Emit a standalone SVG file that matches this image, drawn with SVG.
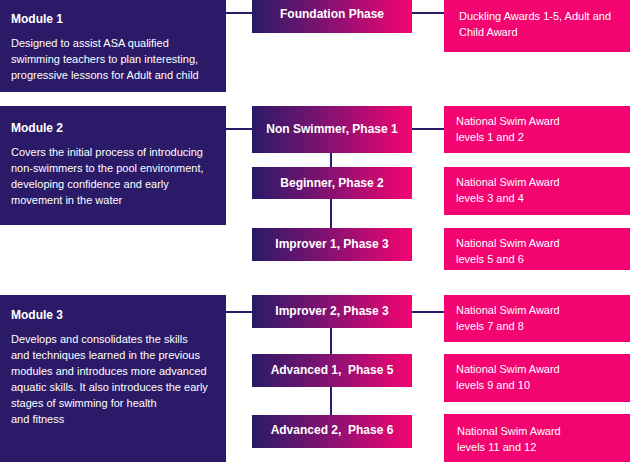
<svg xmlns="http://www.w3.org/2000/svg" width="630" height="462" viewBox="0 0 630 462">
<style>
.mod{fill:#2a1a67}
.ph{fill:url(#g)}
.aw{fill:#f40471}
.t{font-family:"Liberation Sans",Arial,sans-serif;fill:#fff}
.mt{font-size:12px;font-weight:bold}
.mb{font-size:11px}
.pt{font-size:12px;font-weight:bold;text-anchor:middle}
.at{font-size:11px}
.c{stroke:#2a1a67;stroke-width:2;fill:none}
</style>
<defs>
<linearGradient id="g" x1="0" y1="0" x2="1" y2="0">
<stop offset="0" stop-color="#2a1a67"/>
<stop offset="0.5" stop-color="#8a1172"/>
<stop offset="1" stop-color="#f40471"/>
</linearGradient>
</defs>
<rect width="630" height="462" fill="#fff"/>
<g id="connectors" class="c">
<path d="M226 13H252M412 13H444"/>
<path d="M226 129H252M412 129H444"/>
<path d="M226 312H252M412 312H444"/>
<path d="M331 153V167M331 199V228"/>
<path d="M331 328V354M331 387V415"/>
</g>
<g id="module1">
<rect class="mod" x="0" y="0" width="226" height="92"/>
<text class="t mt" x="11" y="23">Module 1</text>
<text class="t mb" x="11" y="47">Designed to assist ASA qualified</text>
<text class="t mb" x="11" y="63">swimming teachers to plan interesting,</text>
<text class="t mb" x="11" y="79">progressive lessons for Adult and child</text>
</g>
<g id="module2">
<rect class="mod" x="0" y="106" width="226" height="119"/>
<text class="t mt" x="11" y="132">Module 2</text>
<text class="t mb" x="11" y="156">Covers the initial process of introducing</text>
<text class="t mb" x="11" y="172">non-swimmers to the pool environment,</text>
<text class="t mb" x="11" y="188">developing confidence and early</text>
<text class="t mb" x="11" y="204">movement in the water</text>
</g>
<g id="module3">
<rect class="mod" x="0" y="295" width="226" height="167"/>
<text class="t mt" x="11" y="319">Module 3</text>
<text class="t mb" x="11" y="343">Develops and consolidates the skills</text>
<text class="t mb" x="11" y="359">and techniques learned in the previous</text>
<text class="t mb" x="11" y="375">modules and introduces more advanced</text>
<text class="t mb" x="11" y="391">aquatic skills. It also introduces the early</text>
<text class="t mb" x="11" y="407">stages of swimming for health</text>
<text class="t mb" x="11" y="423">and fitness</text>
</g>
<g id="foundation">
<rect class="ph" x="252" y="0" width="160" height="33"/>
<text class="t pt" x="332" y="18">Foundation Phase</text>
</g>
<g id="nonswimmer">
<rect class="ph" x="252" y="106" width="160" height="47"/>
<text class="t pt" x="332" y="133">Non Swimmer, Phase 1</text>
</g>
<g id="beginner">
<rect class="ph" x="252" y="167" width="160" height="32"/>
<text class="t pt" x="332" y="187">Beginner, Phase 2</text>
</g>
<g id="improver1">
<rect class="ph" x="252" y="228" width="160" height="33"/>
<text class="t pt" x="332" y="248">Improver 1, Phase 3</text>
</g>
<g id="improver2">
<rect class="ph" x="252" y="295" width="160" height="33"/>
<text class="t pt" x="332" y="315">Improver 2, Phase 3</text>
</g>
<g id="advanced1">
<rect class="ph" x="252" y="354" width="160" height="33"/>
<text class="t pt" x="332" y="374" xml:space="preserve">Advanced 1,  Phase 5</text>
</g>
<g id="advanced2">
<rect class="ph" x="252" y="415" width="160" height="33"/>
<text class="t pt" x="332" y="434" xml:space="preserve">Advanced 2,  Phase 6</text>
</g>
<g id="award0">
<rect class="aw" x="444" y="0" width="186" height="52"/>
<text class="t at" x="459" y="20">Duckling Awards 1-5, Adult and</text>
<text class="t at" x="459" y="36">Child Award</text>
</g>
<g id="award1">
<rect class="aw" x="444" y="106" width="186" height="47"/>
<text class="t at" x="456" y="125">National Swim Award</text>
<text class="t at" x="456" y="141">levels 1 and 2</text>
</g>
<g id="award2">
<rect class="aw" x="444" y="167" width="186" height="48"/>
<text class="t at" x="456" y="186">National Swim Award</text>
<text class="t at" x="456" y="202">levels 3 and 4</text>
</g>
<g id="award3">
<rect class="aw" x="444" y="228" width="186" height="42"/>
<text class="t at" x="456" y="247">National Swim Award</text>
<text class="t at" x="456" y="263">levels 5 and 6</text>
</g>
<g id="award4">
<rect class="aw" x="444" y="295" width="186" height="47"/>
<text class="t at" x="456" y="314">National Swim Award</text>
<text class="t at" x="456" y="330">levels 7 and 8</text>
</g>
<g id="award5">
<rect class="aw" x="444" y="354" width="186" height="48"/>
<text class="t at" x="456" y="373">National Swim Award</text>
<text class="t at" x="456" y="389">levels 9 and 10</text>
</g>
<g id="award6">
<rect class="aw" x="444" y="414" width="186" height="48"/>
<text class="t at" x="457" y="435">National Swim Award</text>
<text class="t at" x="457" y="451">levels 11 and 12</text>
</g>
</svg>
